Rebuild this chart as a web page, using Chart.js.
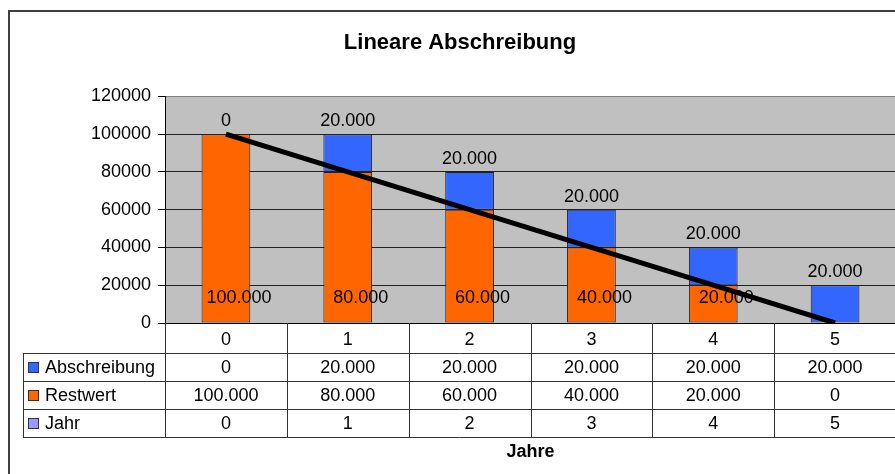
<!DOCTYPE html>
<html lang="de">
<head>
    <meta charset="UTF-8">
    <title>Lineare Abschreibung</title>
    <script src="https://cdn.jsdelivr.net/npm/chart.js"></script>
    <style>
        html, body {
            margin: 0;
            padding: 0;
            background: #fff;
            overflow: hidden;
            width: 895px;
            height: 474px;
        }
        canvas {
            display: block;
        }
    </style>
</head>
<body>
    <canvas id="abschreibungChart" width="920" height="474"></canvas>

    <script>
        // Daten
        const jahre = ['0', '1', '2', '3', '4', '5'];
        const abschreibung = [0, 20000, 20000, 20000, 20000, 20000];
        const restwert = [100000, 80000, 60000, 40000, 20000, 0];
        const jahr = [0, 1, 2, 3, 4, 5];
        const yTicks = [0, 20000, 40000, 60000, 80000, 100000, 120000];

        const farbeAbschreibung = '#3366FF';
        const farbeRestwert = '#FF6600';
        const farbeJahr = '#9999FF';

        Chart.defaults.font.family = '"Liberation Sans", Arial, sans-serif';
        Chart.defaults.color = '#000';

        // Tausenderpunkt wie im Original
        function fmt(n) {
            return String(n).replace(/\B(?=(\d{3})+(?!\d))/g, '.');
        }

        const tableRows = [
            { label: 'Abschreibung', color: farbeAbschreibung, values: abschreibung },
            { label: 'Restwert', color: farbeRestwert, values: restwert },
            { label: 'Jahr', color: farbeJahr, values: jahr }
        ];

        // grauer Hintergrund, Datentabelle, Rahmen, Beschriftungen
        const excelLook = {
            id: 'excelLook',
            beforeDraw(chart) {
                const { ctx, chartArea: a } = chart;
                ctx.save();
                ctx.fillStyle = '#C0C0C0';
                ctx.fillRect(a.left, a.top, a.right - a.left, a.bottom - a.top);
                ctx.restore();
            },
            afterDatasetsDraw(chart) {
                const { ctx } = chart;
                const restMeta = chart.getDatasetMeta(0);
                const absMeta = chart.getDatasetMeta(1);
                ctx.save();
                ctx.font = '18px "Liberation Sans", Arial, sans-serif';
                ctx.fillStyle = '#000';
                ctx.textAlign = 'center';
                ctx.textBaseline = 'middle';
                for (let i = 0; i < jahre.length; i++) {
                    const top = absMeta.data[i];
                    ctx.fillText(fmt(abschreibung[i]), top.x, top.y - 13);
                    if (restwert[i] !== 0) {
                        const bar = restMeta.data[i];
                        ctx.fillText(fmt(restwert[i]), bar.x + 13, bar.base - 24);
                    }
                }
                ctx.restore();
            },
            afterDraw(chart) {
                const { ctx, chartArea: a } = chart;
                const x = chart.scales.x;
                const colW = (a.right - a.left) / jahre.length;
                const rowH = 28;
                const tableTop = a.bottom + 30;
                const tableLeft = 23;
                ctx.save();
                ctx.strokeStyle = '#333';
                ctx.lineWidth = 1;

                // vertikale Linien
                for (let i = 0; i <= jahre.length; i++) {
                    const px = Math.round(a.left + i * colW) + 0.5;
                    ctx.beginPath();
                    ctx.moveTo(px, a.bottom);
                    ctx.lineTo(px, tableTop + rowH * tableRows.length);
                    ctx.stroke();
                }
                ctx.beginPath();
                ctx.moveTo(tableLeft + 0.5, tableTop);
                ctx.lineTo(tableLeft + 0.5, tableTop + rowH * tableRows.length);
                ctx.stroke();

                // horizontale Linien
                for (let r = 0; r <= tableRows.length; r++) {
                    const py = Math.round(tableTop + r * rowH) + 0.5;
                    ctx.beginPath();
                    ctx.moveTo(tableLeft, py);
                    ctx.lineTo(a.right, py);
                    ctx.stroke();
                }

                // Zeilen
                ctx.font = '18px "Liberation Sans", Arial, sans-serif';
                ctx.textBaseline = 'middle';
                tableRows.forEach((row, r) => {
                    const cy = tableTop + r * rowH + rowH / 2 + 1;
                    ctx.fillStyle = row.color;
                    ctx.fillRect(28, cy - 6, 10, 10);
                    ctx.strokeStyle = '#333';
                    ctx.strokeRect(28.5, cy - 5.5, 10, 10);
                    ctx.fillStyle = '#000';
                    ctx.textAlign = 'left';
                    ctx.fillText(row.label, 45, cy);
                    ctx.textAlign = 'center';
                    row.values.forEach((v, i) => {
                        ctx.fillText(fmt(v), x.getPixelForValue(i), cy);
                    });
                });

                // äußerer Rahmen
                ctx.strokeStyle = '#404040';
                ctx.lineWidth = 2;
                ctx.strokeRect(9, 11, 905, 480);
                ctx.restore();
            }
        };

        const ctx = document.getElementById('abschreibungChart').getContext('2d');
        new Chart(ctx, {
            data: {
                labels: jahre,
                datasets: [
                    {
                        type: 'bar',
                        label: 'Restwert',
                        data: restwert,
                        backgroundColor: farbeRestwert,
                        borderColor: '#222',
                        borderWidth: 1,
                        borderSkipped: false,
                        stack: 'bars',
                        order: 1
                    },
                    {
                        type: 'bar',
                        label: 'Abschreibung',
                        data: abschreibung,
                        backgroundColor: farbeAbschreibung,
                        borderColor: '#222',
                        borderWidth: 1,
                        borderSkipped: false,
                        stack: 'bars',
                        order: 1
                    },
                    {
                        type: 'bar',
                        label: 'Jahr',
                        data: jahr,
                        backgroundColor: farbeJahr,
                        borderWidth: 0,
                        stack: 'bars',
                        order: 1
                    },
                    {
                        // lineare Trendlinie des Restwerts
                        type: 'line',
                        label: 'Trend',
                        data: restwert,
                        borderColor: '#000',
                        borderWidth: 5,
                        pointRadius: 0,
                        fill: false,
                        stack: 'trend',
                        order: 0
                    }
                ]
            },
            options: {
                responsive: false,
                animation: false,
                datasets: {
                    bar: { barPercentage: 0.4, categoryPercentage: 1 }
                },
                layout: { padding: 0 },
                plugins: {
                    legend: { display: false },
                    tooltip: { enabled: false },
                    title: {
                        display: true,
                        text: 'Lineare Abschreibung',
                        font: { size: 22, weight: 'bold' },
                        color: '#000',
                        padding: { top: 30, bottom: 40 }
                    }
                },
                scales: {
                    x: {
                        stacked: true,
                        grid: { display: false, drawTicks: false },
                        border: { display: true, color: '#000' },
                        ticks: { font: { size: 18 }, padding: 6, color: '#000' },
                        title: {
                            display: true,
                            text: 'Jahre',
                            font: { size: 18, weight: 'bold' },
                            color: '#000',
                            padding: { top: 0, bottom: 11 }
                        },
                        afterFit(scale) { scale.height = 151; }
                    },
                    y: {
                        stacked: true,
                        min: 0,
                        max: 120000,
                        afterBuildTicks(scale) {
                            scale.ticks = yTicks.map(v => ({ value: v }));
                        },
                        ticks: {
                            font: { size: 18 },
                            color: '#000',
                            padding: 7,
                            callback: v => String(v)
                        },
                        grid: {
                            color: c => (c.tick && c.tick.value === 120000) ? '#808080' : '#222',
                            tickColor: '#000',
                            tickLength: 7
                        },
                        border: { display: true, color: '#000' },
                        afterFit(scale) { scale.width = 165; }
                    },
                    // nur Platzhalter rechts (Diagramm läuft über den Bildrand)
                    rand: {
                        type: 'linear',
                        position: 'right',
                        display: true,
                        ticks: { display: false },
                        grid: { display: false },
                        border: { display: false },
                        afterFit(scale) { scale.width = 24; }
                    }
                }
            },
            plugins: [excelLook]
        });
    </script>
</body>
</html>
